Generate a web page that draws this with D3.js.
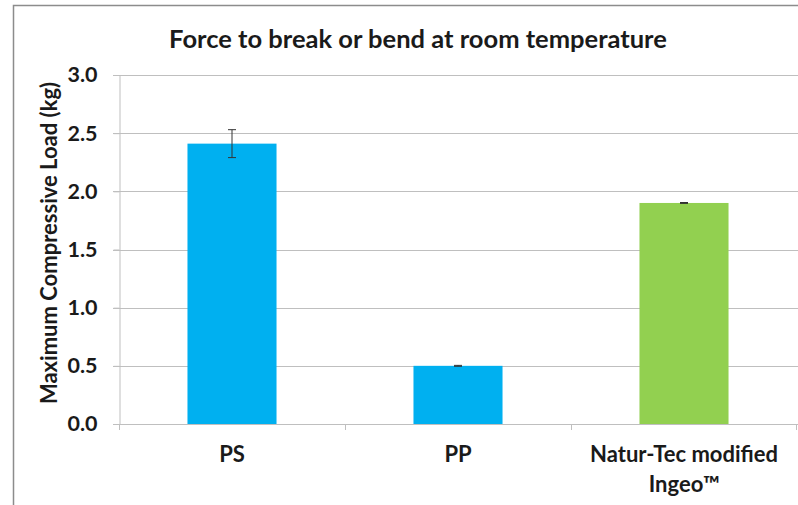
<!DOCTYPE html>
<html>
<head>
<meta charset="utf-8">
<script src="https://cdn.jsdelivr.net/npm/d3@7"></script>
<style>
  body { margin: 0; background: #fff; }
  svg text { font-family: Lato, "Open Sans", sans-serif; font-weight: bold; fill: #1a1a1a; }
</style>
</head>
<body>
<div id="chart"></div>
<script>
// data
const categories = ['PS', 'PP', 'Natur-Tec modified|Ingeo\u2122'];
const values = [2.41, 0.50, 1.90];
const errors = [0.12, 0.004, 0.004];
const barColors = ['#00b0f0', '#00b0f0', '#92d050'];
const yTicks = [0, 0.5, 1.0, 1.5, 2.0, 2.5, 3.0];

const width = 798;
const height = 505;

const svg = d3.select('#chart').append('svg')
  .attr('width', width)
  .attr('height', height);

// outer frame (only top and left visible)
svg.append('path')
  .attr('d', 'M13.5,' + height + 'V5.5H' + width)
  .attr('fill', 'none')
  .attr('stroke', '#8c8c8c')
  .attr('stroke-width', 1.5);

const x = d3.scaleBand()
  .domain(categories)
  .range([119, 797])
  .paddingInner(0.606)
  .paddingOuter(0.303);

const y = d3.scaleLinear()
  .domain([0, 3])
  .range([424, 75]);

// gridlines
svg.append('g')
  .selectAll('line')
  .data(yTicks)
  .join('line')
  .attr('x1', 113)
  .attr('x2', width)
  .attr('y1', d => Math.round(y(d)) + 0.5)
  .attr('y2', d => Math.round(y(d)) + 0.5)
  .attr('stroke', '#bfbfbf')
  .attr('stroke-width', 1);

// y axis
const yAxisGroup = svg.append('g')
  .attr('transform', 'translate(119.5,0)');
yAxisGroup.call(d3.axisLeft(y).tickValues(yTicks).tickFormat(d3.format('.1f')).tickSize(6).tickPadding(16));
yAxisGroup.select('.domain').attr('stroke', '#bfbfbf');
yAxisGroup.selectAll('.tick line').attr('stroke', '#bfbfbf');
yAxisGroup.selectAll('.tick text')
  .attr('font-size', '21.5px')
  .attr('font-family', 'Lato, sans-serif')
  .attr('font-weight', 'bold')
  .attr('fill', '#1a1a1a');

// x axis line with boundary ticks
const step = x.step();
const xAxisGroup = svg.append('g');
xAxisGroup.append('line')
  .attr('x1', 113).attr('x2', width)
  .attr('y1', Math.round(y(0)) + 0.5).attr('y2', Math.round(y(0)) + 0.5)
  .attr('stroke', '#bfbfbf');
xAxisGroup.selectAll('.xtick')
  .data(categories)
  .join('line')
  .attr('class', 'xtick')
  .attr('x1', d => Math.round(x(d) - x.paddingInner() * step / 2) + 0.5)
  .attr('x2', d => Math.round(x(d) - x.paddingInner() * step / 2) + 0.5)
  .attr('y1', Math.round(y(0)))
  .attr('y2', Math.round(y(0)) + 6)
  .attr('stroke', '#bfbfbf');
xAxisGroup.append('line')
  .attr('x1', 796.5).attr('x2', 796.5)
  .attr('y1', Math.round(y(0))).attr('y2', Math.round(y(0)) + 6)
  .attr('stroke', '#bfbfbf');

// bars
svg.append('g')
  .selectAll('rect')
  .data(values)
  .join('rect')
  .attr('x', (d, i) => x(categories[i]))
  .attr('width', x.bandwidth())
  .attr('y', d => y(d))
  .attr('height', d => y(0) - y(d))
  .attr('fill', (d, i) => barColors[i]);

// error bars
const eb = svg.append('g').attr('stroke', '#333').attr('stroke-width', 1);
values.forEach((v, i) => {
  const cx = x(categories[i]) + x.bandwidth() / 2;
  eb.append('line').attr('x1', cx).attr('x2', cx).attr('y1', y(v + errors[i])).attr('y2', y(v - errors[i]));
  eb.append('line').attr('x1', cx - 4).attr('x2', cx + 4).attr('y1', y(v + errors[i])).attr('y2', y(v + errors[i]));
  eb.append('line').attr('x1', cx - 4).attr('x2', cx + 4).attr('y1', y(v - errors[i])).attr('y2', y(v - errors[i]));
});

// category labels
const labels = svg.append('g')
  .selectAll('text')
  .data(categories)
  .join('text')
  .attr('x', d => x(d) + x.bandwidth() / 2)
  .attr('y', 462)
  .attr('text-anchor', 'middle')
  .attr('font-size', '22px');
labels.each(function(d) {
  const parts = d.split('|');
  d3.select(this).selectAll('tspan')
    .data(parts)
    .join('tspan')
    .attr('x', x(d) + x.bandwidth() / 2)
    .attr('dy', (p, j) => j === 0 ? 0 : 30)
    .text(p => p);
});

// title
svg.append('text')
  .attr('x', 418)
  .attr('y', 48)
  .attr('text-anchor', 'middle')
  .attr('font-size', '25.5px')
  .text('Force to break or bend at room temperature');

// y axis title
svg.append('text')
  .attr('transform', 'translate(57,243) rotate(-90)')
  .attr('text-anchor', 'middle')
  .attr('font-size', '22px')
  .text('Maximum Compressive Load (kg)');
</script>
</body>
</html>
